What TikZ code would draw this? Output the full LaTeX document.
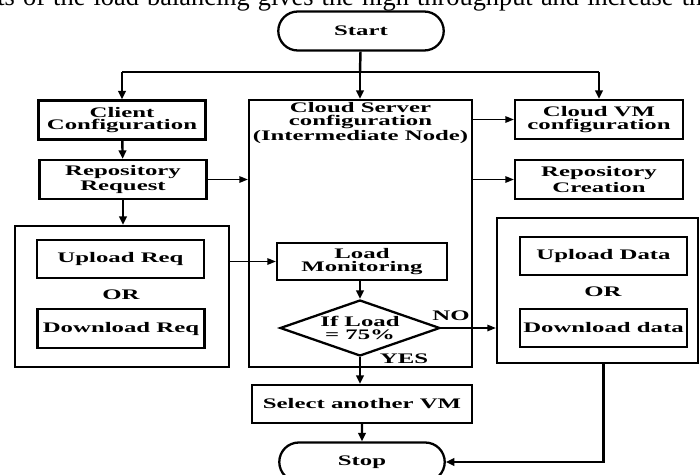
\documentclass[tikz,border=0pt]{standalone}
\usepackage{fontspec}
\setmainfont{Liberation Serif}
\newfontfamily\boxfont{Liberation Serif}[FakeStretch=1.7]
\usepackage{tikz}
\usetikzlibrary{arrows.meta,shapes.geometric,shapes.misc}

\begin{document}
\begin{tikzpicture}[x=0.02cm, y=-0.02cm,
	box/.style={draw, line width=1.3pt, minimum width=3.34cm, minimum height=0.78cm,
		inner sep=1pt, align=center, font=\boxfont\bfseries\fontsize{8.3}{7.2}\selectfont},
	term/.style={box, rounded rectangle, minimum width=3.38cm, minimum height=0.78cm},
	group/.style={draw, line width=1.3pt},
	lbl/.style={font=\boxfont\bfseries\fontsize{8.3}{7.2}\selectfont, inner sep=1pt},
	arr/.style={-{Triangle[length=0.17cm, width=0.15cm]}, line width=1.4pt},
	thinarr/.style={-{Triangle[length=0.17cm, width=0.13cm]}, line width=0.8pt}]

	% frame of the page
	\useasboundingbox (0,0) rectangle (700,474);
	\clip (0,0) rectangle (700,474);

	% line of text above the chart
	\node[anchor=base west, inner sep=0, font=\fontsize{15}{18}\selectfont] (caption) at (-3,5)
	{\makebox[14.1cm][s]{ts of the load balancing gives the high throughput and increase th}};

	% terminals
	\node[term] (start) at (361,31) {Start};
	\node[term] (stop) at (362,462) {Stop};

	% client side
	\node[box] (client) at (122,120) {Client\\Configuration};
	\node[box] (reqrepo) at (123,179.5) {Repository\\Request};
	\node[group, minimum width=4.28cm, minimum height=2.82cm] (reqgroup) at (122,296.5) {};
	\node[box, minimum height=0.76cm] (upreq) at (120.5,259) {Upload Req};
	\node[lbl] (orleft) at (121,295) {OR};
	\node[box] (downreq) at (121,328.5) {Download Req};

	% server side
	\node[group, minimum width=4.46cm, minimum height=5.34cm] (server) at (360.5,233.5) {};
	\node[lbl, anchor=north, align=center] (servertitle) at ([yshift=-1pt]server.north)
	{Cloud Server\\configuration\\(Intermediate Node)};
	\node[box, minimum width=3.4cm, minimum height=0.74cm] (load) at (362,261.5) {Load\\Monitoring};
	\node[box, diamond, aspect=2.86, minimum width=3.2cm, minimum height=1.12cm, inner sep=0pt]
	(check) at (360,328) {If Load\\= 75\%};
	\node[lbl] (no) at (451,316) {NO};
	\node[lbl] (yes) at (404,359) {YES};
	\node[box, minimum width=4.4cm, minimum height=0.76cm] (select) at (362,404) {Select another VM};

	% vm side
	\node[box, minimum width=3.36cm] (vm) at (599,119.5) {Cloud VM\\configuration};
	\node[box, minimum width=3.36cm] (repocreate) at (599,179.5) {Repository\\Creation};
	\node[group, minimum width=4.02cm, minimum height=2.9cm] (datagroup) at (597.5,290.5) {};
	\node[box, minimum height=0.76cm] (updata) at (603.5,256) {Upload Data};
	\node[lbl] (orright) at (603,292) {OR};
	\node[box, minimum height=0.76cm] (downdata) at (603.5,328) {Download data};

	% split below start
	\coordinate (split) at (360,72);
	\draw[line width=1.4pt] (start) -- (split);
	\draw[line width=1.1pt] (client |- split) -- (vm |- split);
	\draw[arr] (client |- split) -- (client);
	\draw[arr] (split) -- (split |- server.north);
	\draw[arr] (vm |- split) -- (vm);

	% client column
	\draw[arr] (client) -- (reqrepo);
	\draw[arr] (reqrepo.south) -- (reqrepo.south |- reqgroup.north);
	\draw[thinarr] (reqrepo.east) -- (reqrepo.east -| server.west);
	\draw[thinarr] (reqgroup.east |- load.west) -- (load.west);

	% server to vm column
	\draw[thinarr] (server.east |- vm.west) -- (vm.west);
	\draw[thinarr] (server.east |- repocreate.west) -- (repocreate.west);

	% monitoring and decision
	\draw[arr] (check.north |- load.south) -- (check.north);
	\draw[thinarr] (check.east) -- (check.east -| datagroup.west);
	\draw[arr] (check.south) -- (check.south |- select.north);
	\draw[arr] (select) -- (stop);
	\draw[arr] (downdata.south |- datagroup.south) |- (stop.east);

\end{tikzpicture}
\end{document}
